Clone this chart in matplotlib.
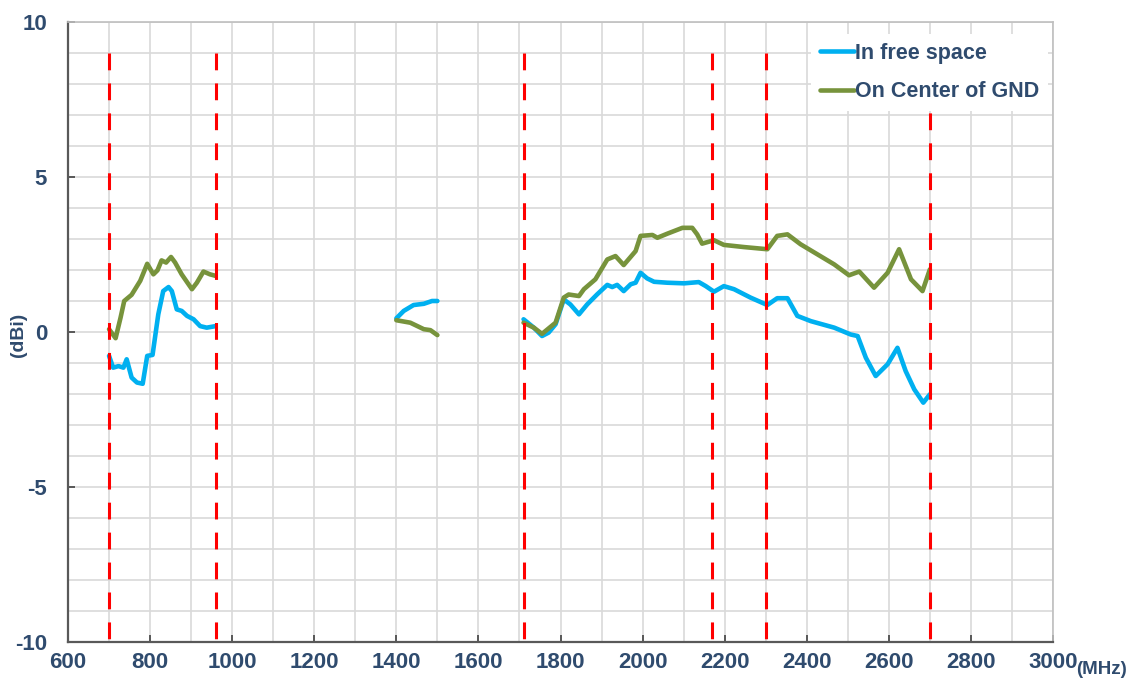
import matplotlib.pyplot as plt
from matplotlib.ticker import MultipleLocator

# measured gain, three bands each
f_low = [700, 710, 723, 735, 743, 755, 768, 782, 793, 806, 820, 832, 845, 853, 865, 877, 890, 906, 922, 938, 960]
free_low = [-0.77, -1.15, -1.1, -1.15, -0.88, -1.47, -1.63, -1.67, -0.77, -0.74, 0.57, 1.32, 1.45, 1.32, 0.73, 0.68,
            0.52, 0.41, 0.19, 0.14, 0.19]
f_low_g = [700, 716, 728, 737, 755, 776, 793, 808, 818, 828, 839, 851, 861, 877, 902, 914, 930, 946, 960]
gnd_low = [0.09, -0.2, 0.46, 1.0, 1.2, 1.65, 2.2, 1.86, 1.99, 2.31, 2.24, 2.42, 2.24, 1.86, 1.38, 1.59, 1.95, 1.86, 1.81]

f_mid = [1400, 1418, 1442, 1467, 1487, 1500]
free_mid = [0.44, 0.68, 0.87, 0.91, 1.0, 1.0]
f_mid_g = [1400, 1434, 1467, 1483, 1500]
gnd_mid = [0.38, 0.3, 0.09, 0.06, -0.1]

f_high = [1710, 1735, 1755, 1771, 1788, 1808, 1824, 1845, 1865, 1889, 1914, 1926, 1938, 1954, 1971, 1983, 1995,
          2011, 2028, 2060, 2101, 2137, 2154, 2174, 2198, 2223, 2263, 2304, 2328, 2353, 2377, 2410, 2467, 2507,
          2524, 2544, 2568, 2597, 2621, 2641, 2662, 2684, 2700]
free_high = [0.41, 0.14, -0.13, -0.02, 0.25, 1.05, 0.89, 0.57, 0.89, 1.21, 1.52, 1.45, 1.52, 1.32, 1.54, 1.59, 1.91,
             1.73, 1.62, 1.59, 1.57, 1.61, 1.48, 1.3, 1.48, 1.38, 1.11, 0.87, 1.09, 1.09, 0.52, 0.35, 0.14, -0.08,
             -0.13, -0.83, -1.42, -1.04, -0.51, -1.26, -1.85, -2.28, -2.01]
f_high_g = [1710, 1735, 1755, 1788, 1808, 1820, 1845, 1857, 1885, 1914, 1934, 1954, 1983, 1995, 2024, 2036, 2060,
            2097, 2121, 2133, 2145, 2174, 2198, 2247, 2304, 2328, 2353, 2385, 2467, 2503, 2528, 2564, 2597, 2625,
            2654, 2682, 2700]
gnd_high = [0.3, 0.14, -0.06, 0.3, 1.11, 1.21, 1.16, 1.38, 1.7, 2.34, 2.45, 2.16, 2.61, 3.1, 3.13, 3.04, 3.17,
            3.36, 3.36, 3.15, 2.85, 2.96, 2.81, 2.74, 2.67, 3.1, 3.15, 2.83, 2.18, 1.83, 1.95, 1.43, 1.91, 2.67,
            1.7, 1.32, 2.02]

band_edges = [700, 960, 1710, 2170, 2300, 2700]

navy = '#2F4B6E'
blue = '#00B0F0'
green = '#77933C'

plt.rcParams['font.family'] = ['Liberation Sans Narrow', 'Liberation Sans', 'DejaVu Sans']
plt.rcParams['font.weight'] = 'bold'
plt.rcParams['axes.unicode_minus'] = False

fig = plt.figure(figsize=(11.26, 6.84), dpi=100)
ax = fig.add_axes([68 / 1126, 42 / 684, 985 / 1126, 620 / 684])

ax.plot(f_low, free_low, color=blue, lw=3.3, solid_capstyle='round', label='In free space')
ax.plot(f_mid, free_mid, color=blue, lw=3.3, solid_capstyle='round')
ax.plot(f_high, free_high, color=blue, lw=3.3, solid_capstyle='round')
ax.plot(f_low_g, gnd_low, color=green, lw=3.3, solid_capstyle='round', label='On Center of GND')
ax.plot(f_mid_g, gnd_mid, color=green, lw=3.3, solid_capstyle='round')
ax.plot(f_high_g, gnd_high, color=green, lw=3.3, solid_capstyle='round')

for f in band_edges:
    ax.plot([f, f], [9, -10], color='#FF0000', lw=2.2, dashes=(5.5, 4.3), zorder=5)

ax.set_xlim(600, 3000)
ax.set_ylim(-10, 10)
ax.xaxis.set_major_locator(MultipleLocator(200))
ax.xaxis.set_minor_locator(MultipleLocator(100))
ax.yaxis.set_major_locator(MultipleLocator(5))
ax.yaxis.set_minor_locator(MultipleLocator(1))
ax.grid(which='both', color='#D9D9D9', lw=1.2)
ax.set_axisbelow(True)

ax.tick_params(which='major', direction='in', length=5, width=1.2, color='#404040',
               labelsize=16, labelcolor=navy)
ax.tick_params(which='minor', length=0)
ax.tick_params(axis='x', pad=7)
ax.tick_params(axis='y', pad=15)

for side in ['left', 'bottom']:
    ax.spines[side].set_color('#595959')
    ax.spines[side].set_linewidth(1.6)
for side in ['top', 'right']:
    ax.spines[side].set_color('#BFBFBF')
    ax.spines[side].set_linewidth(1.2)

fig.text(18 / 1126, 1 - 335 / 684, '(dBi)', rotation=90, ha='center', va='center',
         fontsize=14, color=navy, fontweight='bold')
fig.text(1076 / 1126, 1 - 669 / 684, '(MHz)', ha='left', va='center',
         fontsize=13.5, color=navy, fontweight='bold')

leg = ax.legend(loc='upper right', bbox_to_anchor=(0.995, 0.98), fontsize=15.5, frameon=True,
                facecolor='white', edgecolor='none', framealpha=1, handlelength=1.6,
                handletextpad=0.05, labelspacing=0.8, borderaxespad=0)
for t in leg.get_texts():
    t.set_color(navy)

fig.savefig('out.png', dpi=100)
